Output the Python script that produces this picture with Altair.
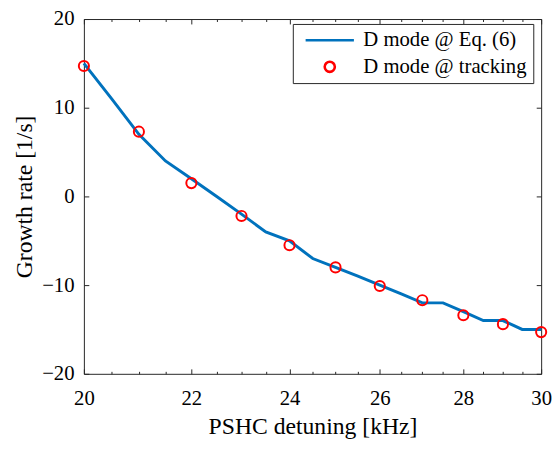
import altair as alt
import pandas as pd

# Data
line_x = [20, 20.5, 21, 21.5, 22, 22.5, 23, 23.5, 24, 24.5, 25, 25.5, 26, 26.5,
          27, 27.5, 28, 28.5, 29, 29.5, 30]
line_y = [15, 11, 7, 4, 2, 0, -2, -4, -5, -7, -8, -9, -10, -11,
          -12, -12, -13, -14, -14, -15, -15]
track_x = [20, 21, 22, 23, 24, 25, 26, 27, 28, 29, 30]
track_y = [14.7, 7.3, 1.5, -2.2, -5.5, -8.0, -10.1, -11.7, -13.4, -14.4, -15.3]

x_major = [20, 22, 24, 26, 28, 30]
x_all_ticks = [20, 20.5, 21, 21.5, 22, 22.5, 23, 23.5, 24, 24.5, 25, 25.5, 26, 26.5,
               27, 27.5, 28, 28.5, 29, 29.5, 30]
y_ticks = [-20, -10, 0, 10, 20]

EQ = "D mode @ Eq. (6)"
TR = "D mode @ tracking"

line_df = pd.DataFrame({"x": line_x, "y": line_y})
pts_df = pd.DataFrame({"x": track_x, "y": track_y, "series": [TR] * len(track_x)})

W, H = 464, 360
FONT = "Liberation Serif"
AX = "#262626"

xscale = alt.Scale(type="log", domain=[20, 30], nice=False)
yscale = alt.Scale(domain=[-20, 20], nice=False, zero=False)

minor_size = {"condition": {"test": "datum.value % 2 === 0", "value": 5}, "value": 2.5}

# Axis with labels / titles (no ticks)
xa_lab = alt.Axis(orient="bottom", values=x_major, format="d", tickSize=0, grid=False,
                  labelFont=FONT, labelFontSize=21, labelColor="#000", labelPadding=14,
                  labelFlush=False, labelOverlap=False,
                  domainColor=AX, domainWidth=1,
                  title="PSHC detuning [kHz]", titleFont=FONT, titleFontSize=24,
                  titleFontWeight="normal", titleColor="#000", titlePadding=7)
ya_lab = alt.Axis(orient="left", values=y_ticks, tickSize=0, grid=False,
                  labelFont=FONT, labelFontSize=21, labelColor="#000", labelPadding=10,
                  domainColor=AX, domainWidth=1,
                  title="Growth rate [1/s]", titleFont=FONT, titleFontSize=24,
                  titleFontWeight="normal", titleColor="#000", titlePadding=5)
# Inward ticks at bottom / left
xa_b = alt.Axis(orient="top", offset=-H, values=x_all_ticks, tickSize=minor_size,
                tickColor=AX, tickWidth=1, labels=False, domain=False, grid=False, title=None)
ya_l = alt.Axis(orient="right", offset=-W, values=y_ticks, tickSize=5,
                tickColor=AX, tickWidth=1, labels=False, domain=False, grid=False, title=None)
# Inward ticks + frame at top / right
xa_t = alt.Axis(orient="bottom", offset=-H, values=x_all_ticks, tickSize=minor_size,
                tickColor=AX, tickWidth=1, labels=False, domain=True, domainColor=AX,
                domainWidth=1, grid=False, title=None)
ya_r = alt.Axis(orient="left", offset=-W, values=y_ticks, tickSize=5,
                tickColor=AX, tickWidth=1, labels=False, domain=True, domainColor=AX,
                domainWidth=1, grid=False, title=None)

# custom symbol paths (unit = sqrt(size)/2 = 24.5 px)
LINE_PATH = "M-1,0L1,0"
CIRC_PATH = "M-0.21,0A0.21,0.21,0,1,1,0.21,0A0.21,0.21,0,1,1,-0.21,0Z"

leg = alt.Legend(title=None, orient="none", legendX=212, legendY=5,
                 fillColor="white", strokeColor=AX, padding=6,
                 labelFont=FONT, labelFontSize=21, labelColor="#000", labelLimit=400,
                 labelExpr="datum.label + ' '",
                 symbolSize=2401, symbolStrokeWidth=2.6, symbolOffset=5.5,
                 labelOffset=8, clipHeight=21, rowPadding=5)

line = alt.Chart(line_df).mark_line(color="#0072BD", strokeWidth=3).encode(
    x=alt.X("x:Q", scale=xscale, axis=xa_lab),
    y=alt.Y("y:Q", scale=yscale, axis=ya_lab),
)

frame = alt.Chart(line_df).mark_line(strokeOpacity=0).encode(
    x=alt.X("x:Q", scale=xscale, axis=xa_t),
    y=alt.Y("y:Q", scale=yscale, axis=ya_r),
)

pts = alt.Chart(pts_df).mark_point(filled=False, size=2401, strokeWidth=2, opacity=1).encode(
    x=alt.X("x:Q", scale=xscale, axis=xa_b),
    y=alt.Y("y:Q", scale=yscale, axis=ya_l),
    color=alt.Color("series:N", scale=alt.Scale(domain=[EQ, TR], range=["#0072BD", "#FF0000"]),
                    legend=leg),
    shape=alt.Shape("series:N", scale=alt.Scale(domain=[EQ, TR], range=[LINE_PATH, CIRC_PATH]),
                    legend=leg),
)

chart = alt.layer(frame, line, pts).resolve_axis(x="independent", y="independent").properties(
    width=W, height=H, autosize="none",
    padding={"left": 77, "top": 8, "right": 11, "bottom": 66},
    background="white",
).configure(font=FONT).configure_view(stroke=None).configure_axis(
    labelFont=FONT, titleFont=FONT
).configure_legend(labelFont=FONT)

chart.save("out.html", embed_options={"renderer": "svg", "actions": False})
